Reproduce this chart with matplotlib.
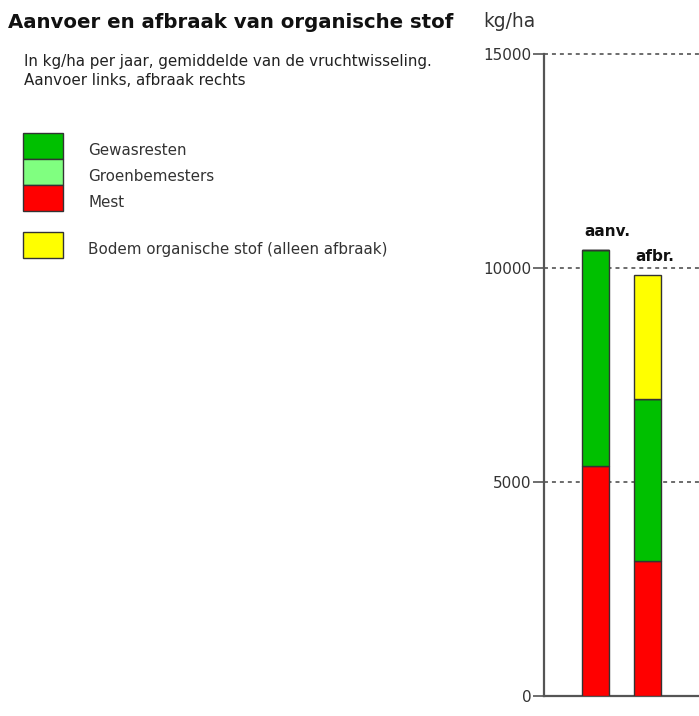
import matplotlib
matplotlib.use("Agg")
import matplotlib.pyplot as plt
from matplotlib.patches import Rectangle

# Organic matter supply (aanvoer) and breakdown (afbraak), kg/ha per year
bar_labels = ["aanv.", "afbr."]
gewasresten = [5040, 3780]
groenbemesters = [0, 0]
mest = [5380, 3150]
bodem_os = [0, 2910]

legend_labels = ["Gewasresten", "Groenbemesters", "Mest", "Bodem organische stof (alleen afbraak)"]
legend_colors = ["#00C000", "#80FF80", "#FF0000", "#FFFF00"]

yticks = [0, 5000, 10000, 15000]

title = "Aanvoer en afbraak van organische stof"
subtitle_lines = ["In kg/ha per jaar, gemiddelde van de vruchtwisseling.",
                  "Aanvoer links, afbraak rechts"]
unit = "kg/ha"

W, H = 699, 716
plt.rcParams["font.family"] = ["DejaVu Sans"]
fig = plt.figure(figsize=(W / 100, H / 100), dpi=100)

# Overlay in pixel coordinates for the heading and legend block
ov = fig.add_axes([0, 0, 1, 1])
ov.set_xlim(0, W)
ov.set_ylim(H, 0)
ov.axis("off")

ov.text(8, 28, title, fontsize=14.2, fontweight="bold", color="#111111",
        ha="left", va="baseline")
for line, yb in zip(subtitle_lines, [66, 85]):
    ov.text(24, yb, line, fontsize=10.9, color="#222222", ha="left",
            va="baseline")

box_tops = [133, 159, 185, 232]
label_base = [155, 181, 207, 254]
for lab, col, top, yb in zip(legend_labels, legend_colors, box_tops, label_base):
    ov.add_patch(Rectangle((23, top), 40, 26, facecolor=col,
                           edgecolor="#333333", linewidth=1.0))
    ov.text(88, yb, lab, fontsize=10.9, color="#333333",
            ha="left", va="baseline")

ov.text(483, 27, unit, fontsize=13.4, color="#333333", ha="left", va="baseline")

# Bar chart
ax = fig.add_axes([544 / W, 1 - 695.7 / H, (W - 544) / W, (695.7 - 54) / H])
ax.set_xlim(-1, 2)
ax.set_ylim(0, 15000)
x = [0, 1]
w = 0.51
edge = dict(edgecolor="#333333", linewidth=1.0, zorder=3)
ax.bar(x, mest, w, color=legend_colors[2], **edge)
b1 = list(mest)
ax.bar(x, gewasresten, w, bottom=b1, color=legend_colors[0], **edge)
b2 = [a + b for a, b in zip(b1, gewasresten)]
ax.bar(x, groenbemesters, w, bottom=b2, color=legend_colors[1], **edge)
b3 = [a + b for a, b in zip(b2, groenbemesters)]
ax.bar(x, bodem_os, w, bottom=b3, color=legend_colors[3], **edge)
tops = [a + b for a, b in zip(b3, bodem_os)]

for xi, t, lab in zip(x, tops, bar_labels):
    ax.annotate(lab, (xi - w / 2, t), xytext=(1, 10), textcoords="offset points",
                ha="left", va="baseline", fontsize=11, fontweight="bold",
                color="#111111")

for yv in yticks[1:]:
    ax.axhline(yv, color="#444444", linestyle=(0, (2.6, 2.6)), linewidth=1.1,
               zorder=1, clip_on=False)

ax.set_yticks(yticks)
ax.set_yticklabels([str(v) for v in yticks])
ax.tick_params(axis="y", direction="out", length=8, width=1.2, color="#555555",
               labelsize=11, labelcolor="#333333", pad=1)
ax.set_xticks([])
for s in ["top", "right"]:
    ax.spines[s].set_visible(False)
for s in ["left", "bottom"]:
    ax.spines[s].set_color("#555555")
    ax.spines[s].set_linewidth(1.6)
ax.patch.set_alpha(0)

fig.savefig("out.png", dpi=100)
